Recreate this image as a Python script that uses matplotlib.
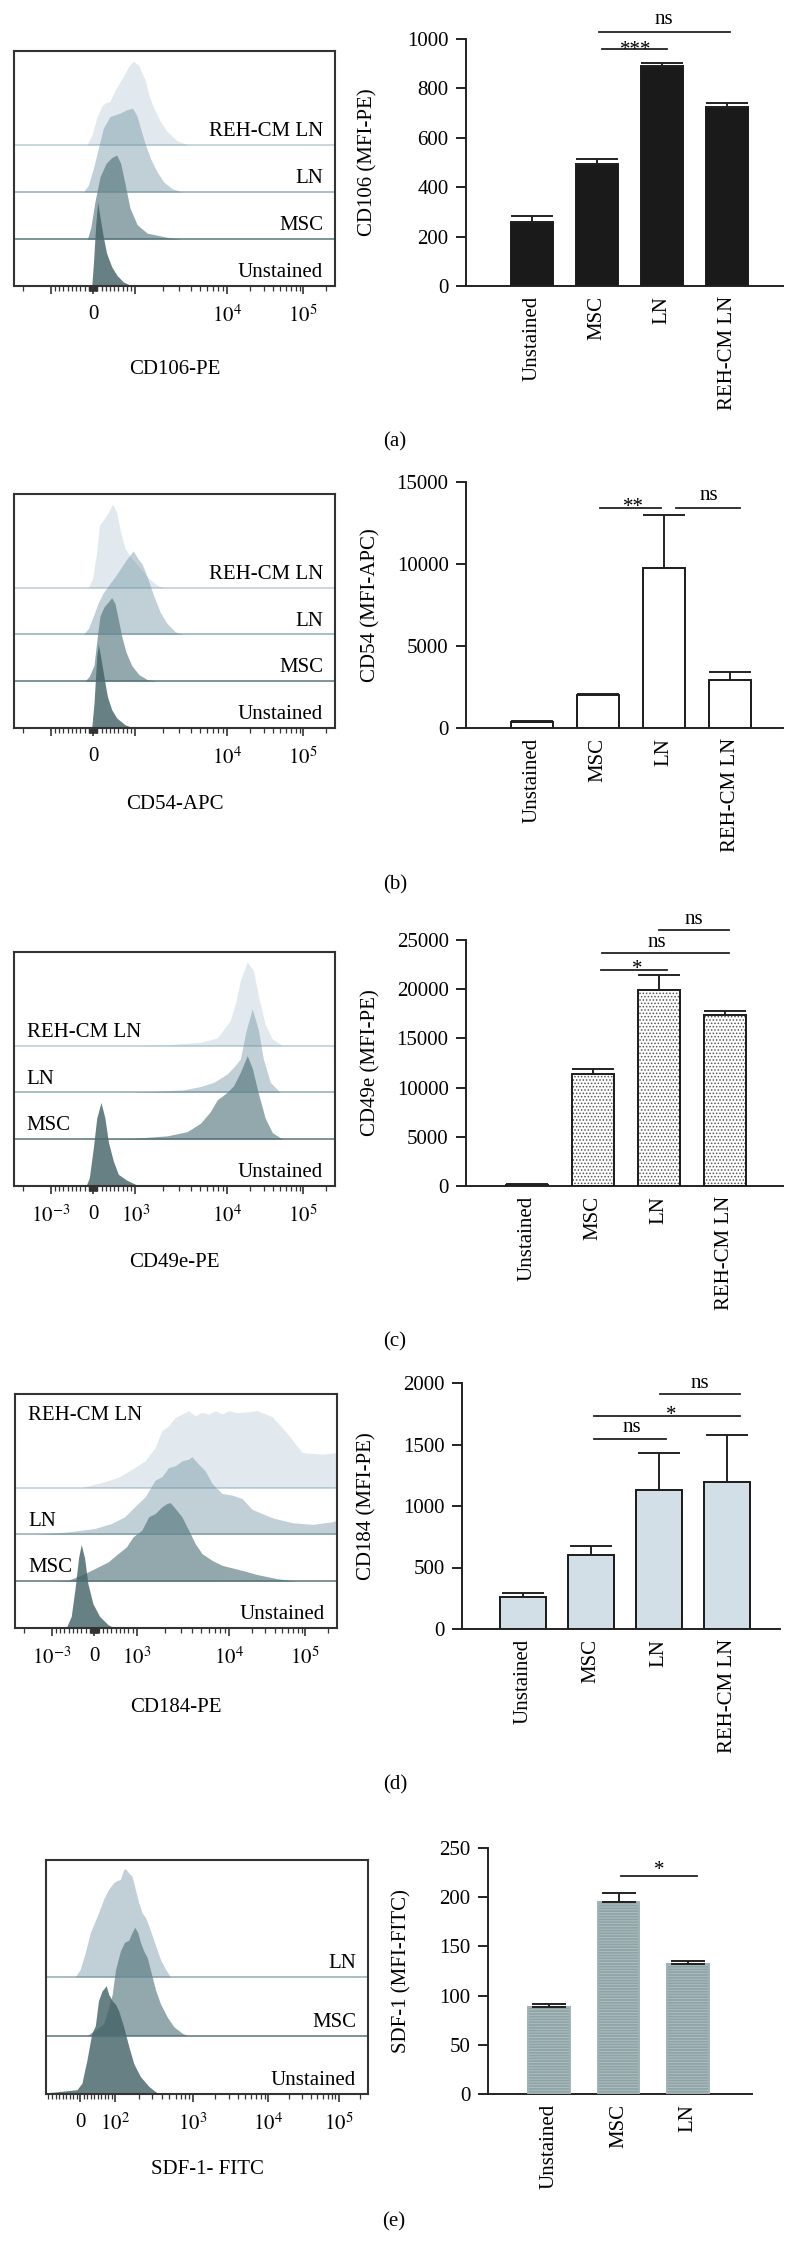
# Flow cytometry histograms + MFI bar charts (panels a-e)
import numpy as np
import matplotlib
matplotlib.use('Agg')
import matplotlib.pyplot as plt

plt.rcParams['font.family'] = ['Liberation Serif', 'DejaVu Serif']
plt.rcParams['mathtext.fontset'] = 'stix'
plt.rcParams['hatch.linewidth'] = 0.7

# ---- bar chart data ----
CATS4 = ['Unstained', 'MSC', 'LN', 'REH-CM LN']
CATS3 = ['Unstained', 'MSC', 'LN']
CD106_MFI = [259, 494, 889, 726]
CD106_ERR = [24, 20, 15, 16]
CD54_MFI = [380, 2010, 9740, 2940]
CD54_ERR = [50, 40, 3240, 505]
CD49E_MFI = [150, 11430, 19900, 17390]
CD49E_ERR = [30, 470, 1520, 410]
CD184_MFI = [260, 604, 1130, 1193]
CD184_ERR = [30, 71, 303, 384]
SDF1_MFI = [88, 195, 132]
SDF1_ERR = [3, 9, 3]

# ---- histogram outlines (fluorescence value, % of mode) ----
# (a) CD106-PE
HA_UNST_X = [-30, 10, 65, 110, 165, 245, 320, 440, 560, 710, 910]
HA_UNST_Y = [0, 27, 74, 100, 82, 58, 39, 23, 13, 5, 0]
HA_MSC_X = [-134, -54, 47, 165, 306, 440, 558, 652, 753, 871, 1044, 1341, 2212, 3085]
HA_MSC_Y = [0, 13, 45, 74, 90, 97, 100, 90, 66, 37, 17, 7, 2, 0]
HA_LN_X = [-228, -110, 8, 125, 243, 400, 635, 793, 935, 1044, 1133, 1253, 1456, 1720, 2030, 2505, 3215]
HA_LN_Y = [0, 8, 28, 52, 76, 90, 94, 98, 100, 90, 76, 60, 40, 24, 12, 4, 0]
HA_REH_X = [-149, -31, 87, 204, 282, 400, 518, 635, 753, 831, 949, 1087, 1183, 1284, 1396, 1582, 1870, 2212, 2850, 3770]
HA_REH_Y = [0, 11, 32, 46, 50, 52, 65, 75, 85, 93, 100, 95, 85, 77, 60, 44, 28, 16, 5, 0]
# (b) CD54-APC
HB_UNST_X = [-31, 24, 87, 125, 181, 259, 337, 440, 558, 753, 949]
HB_UNST_Y = [0, 30, 85, 100, 85, 61, 38, 22, 12, 4, 0]
HB_MSC_X = [-188, -86, 24, 102, 165, 259, 361, 440, 518, 596, 675, 776, 910, 1087, 1341, 1658]
HB_MSC_Y = [0, 6, 19, 54, 78, 89, 95, 100, 93, 74, 54, 35, 19, 8, 2, 0]
HB_LN_X = [-228, -110, 8, 125, 243, 400, 518, 675, 793, 949, 1044, 1183, 1341, 1582, 1870, 2212, 2720, 3290]
HB_LN_Y = [0, 7, 22, 38, 50, 61, 69, 81, 90, 100, 92, 84, 69, 46, 26, 13, 3, 0]
HB_REH_X = [-110, -8, 87, 149, 243, 361, 463, 558, 652, 753, 910, 1133, 1396, 1720, 2030]
HB_REH_Y = [0, 11, 43, 74, 81, 90, 100, 90, 66, 47, 35, 23, 11, 3, 0]
# (c) CD49e-PE
HC_UNST_X = [-165, -86, 8, 87, 188, 282, 361, 478, 596, 793, 1000, 1044]
HC_UNST_Y = [0, 10, 46, 81, 100, 81, 53, 30, 14, 7, 2, 0]
HC_MSC_X = [165, 941, 2212, 3650, 5090, 6535, 7740, 9930, 12100, 14830, 18300, 21300, 25600, 31600, 39100, 53000]
HC_MSC_Y = [0, 1, 4, 9, 19, 33, 47, 56, 64, 80, 100, 85, 55, 25, 8, 0]
HC_LN_X = [558, 1456, 3340, 5090, 7100, 9930, 12100, 14830, 17800, 21300, 25600, 29800, 36800, 49800]
HC_LN_Y = [0, 1, 3, 7, 12, 22, 30, 40, 75, 100, 75, 40, 12, 0]
HC_REH_X = [1000, 2212, 5090, 7740, 10950, 12740, 14830, 18300, 22000, 25600, 31600, 39100, 53000]
HC_REH_Y = [0, 1, 4, 9, 30, 50, 78, 100, 90, 60, 25, 8, 0]
# (d) CD184-PE
HD_UNST_X = [-659, -541, -447, -369, -306, -228, -149, -31, 125, 322, 478]
HD_UNST_Y = [0, 14, 49, 84, 100, 84, 53, 29, 14, 4, 0]
HD_MSC_X = [-1090, -619, -228, 87, 322, 558, 753, 910, 1133, 1341, 1582, 1870, 2120, 2300, 2610,
            3085, 3650, 4300, 5090, 6535, 8400, 12100, 14830, 23370, 42900, 78500]
HD_MSC_Y = [0, 1, 9, 17, 23, 33, 41, 53, 61, 77, 81, 89, 93, 94, 87, 77, 61, 45, 33, 25, 19, 15, 13, 8, 3, 0]
HD_LN_X = [-1518, -619, 8, 400, 713, 949, 1231, 1582, 1870, 2212, 2610, 3085, 3650, 3960, 4680, 5520,
           6535, 8400, 10950, 14830, 20090, 36800, 67400, 123600, 226400, 262000]
HD_LN_Y = [0, 3, 7, 13, 21, 33, 45, 65, 69, 80, 82, 88, 90, 93, 84, 76, 61, 49, 47, 43, 30, 20, 14, 12, 15, 17]
HD_REH_X = [-306, 165, 558, 949, 1231, 1582, 1870, 2212, 2610, 3085, 3650, 4300, 5090, 6000, 7100,
            8400, 9930, 12100, 14830, 23370, 36800, 57900, 91300, 167300, 262000]
HD_REH_Y = [0, 6, 12, 24, 32, 48, 68, 74, 84, 88, 92, 86, 90, 88, 92, 88, 92, 90, 90, 92, 85, 65, 42, 40, 42]
# (e) SDF-1-FITC
HE_UNST_X = [-97, -9, 5, 19, 33, 43, 52, 62, 74, 81, 91, 100, 110, 128, 149, 173, 211, 271, 348, 384]
HE_UNST_Y = [1, 4, 10, 31, 56, 63, 86, 95, 100, 92, 86, 83, 77, 62, 44, 28, 16, 7, 1, 0]
HE_MSC_X = [19, 43, 67, 81, 91, 100, 116, 131, 149, 164, 178, 195, 211, 233, 258, 285, 331, 384, 469, 571, 734, 852]
HE_MSC_Y = [0, 5, 11, 26, 38, 60, 78, 86, 88, 95, 100, 95, 86, 78, 72, 60, 42, 29, 17, 8, 2, 0]
HE_LN_X = [-14, 0, 14, 29, 43, 52, 67, 81, 95, 105, 116, 128, 135, 149, 164, 181, 200, 222, 245, 271, 300, 331, 384, 446, 518]
HE_LN_Y = [0, 7, 22, 41, 52, 59, 72, 81, 87, 89, 90, 99, 100, 96, 93, 81, 69, 59, 55, 47, 38, 29, 16, 7, 0]

# overlay colours: Unstained, MSC, LN, REH-CM LN
HIST_COLORS = ['#416064', '#4b6e75', '#628a99', '#6991aa']
HIST_ALPHA = [0.8, 0.6, 0.4, 0.2]

W, H = 798, 2266
fig = plt.figure(figsize=(W / 100, H / 100), dpi=100)


def px_axes(x0, y0, x1, y1):
    # axes from pixel box (top-left origin)
    return fig.add_axes([x0 / W, 1 - y1 / H, (x1 - x0) / W, (y1 - y0) / H])


def biex(lin, logs, pos):
    """linear around 0, log-like outside (FlowJo style axis)"""
    logs = np.asarray(logs, float)
    pos = np.asarray(pos, float)

    def fwd(v):
        v = np.asarray(v, dtype=float)
        a = np.abs(v)
        big = np.interp(np.log10(np.maximum(a, lin)), logs, pos)
        return np.sign(v) * np.where(a <= lin, a / lin * pos[0], big)

    def inv(u):
        u = np.asarray(u, dtype=float)
        a = np.abs(u)
        big = 10 ** np.interp(a, pos, logs)
        return np.sign(u) * np.where(a <= pos[0], a / pos[0] * lin, big)
    return fwd, inv


SCALE_PE = biex(1000, [3, 4, 5, 6], [0.462, 1.462, 2.288, 3.114])
SCALE_FITC = biex(100, [2, 3, 4, 5, 6], [0.467, 1.493, 2.493, 3.427, 4.36])

MINOR_PE = ([-2000] + [-k * 100 for k in range(1, 10)] + [-k * 10 for k in range(1, 10)]
            + [k * 10 for k in range(1, 10)] + [k * 100 for k in range(1, 10)]
            + [k * 1000 for k in range(2, 10)] + [k * 10000 for k in range(2, 10)] + [200000])
MINOR_FITC = ([-k * 10 for k in range(1, 10)] + [k * 10 for k in range(1, 10)]
              + [k * 100 for k in range(2, 10)] + [k * 1000 for k in range(2, 10)]
              + [k * 10000 for k in range(2, 10)] + [200000])


def draw_hist(ax, curves, lane, nlanes, scale, xlim, majors, major_labels, minors, xlabel, xlabel_y):
    ax.set_xscale('function', functions=scale)
    for i in reversed(range(len(curves))):
        xs, ys = curves[i]
        ax.fill_between(xs, i * lane, i * lane + np.asarray(ys, float),
                        color=HIST_COLORS[i], alpha=HIST_ALPHA[i], lw=0, zorder=1)
    for i in range(1, len(curves)):
        ax.axhline(i * lane, color=HIST_COLORS[i], alpha=min(HIST_ALPHA[i] + 0.2, 1), lw=1.3, zorder=2)
    ax.set_xlim(xlim)
    ax.set_ylim(0, nlanes * lane)
    ax.set_yticks([])
    ax.set_xticks(majors, major_labels)
    ax.set_xticks([m for m in minors if xlim[0] < m < xlim[1]], minor=True)
    ax.tick_params(axis='x', which='major', length=6, width=1.2, labelsize=15, pad=8, color='#333333')
    ax.tick_params(axis='x', which='minor', length=3.5, width=0.9, color='#333333')
    for s in ax.spines.values():
        s.set_linewidth(1.5)
        s.set_color('#333333')
    ax.set_xlabel(xlabel, fontsize=15, va='top')
    ax.xaxis.set_label_coords(0.5, xlabel_y)


def hist_label(ax, text, y, left=False):
    if left:
        ax.text(0.04, y, text, transform=ax.get_yaxis_transform(), ha='left', va='baseline', fontsize=15)
    else:
        ax.text(0.963, y, text, transform=ax.get_yaxis_transform(), ha='right', va='baseline', fontsize=15)


def draw_bars(ax, cats, vals, errs, width, xlim, ymax, yticks, ylabel, ylabel_x,
              face, edge='#1a1a1a', hatch=None, hatch_color=None, capsize=15):
    x = np.arange(len(cats))
    if hatch:
        ax.bar(x, vals, width, color=face, edgecolor=hatch_color, hatch=hatch, lw=0, zorder=2)
        ax.bar(x, vals, width, facecolor='none', edgecolor=edge, lw=1.4, zorder=3)
    else:
        ax.bar(x, vals, width, color=face, edgecolor=edge, lw=1.4, zorder=2)
    ax.errorbar(x, vals, yerr=[np.zeros(len(vals)), errs], fmt='none', ecolor='#222222',
                elinewidth=1.4, capsize=capsize, capthick=1.4, zorder=4)
    ax.set_xlim(xlim)
    ax.set_ylim(0, ymax)
    ax.set_xticks(x, cats, rotation=90, fontsize=15)
    ax.tick_params(axis='x', length=0, pad=7)
    ax.set_yticks(yticks)
    ax.tick_params(axis='y', length=7.5, width=1.4, labelsize=15, pad=5, color='#222222')
    ax.spines['top'].set_visible(False)
    ax.spines['right'].set_visible(False)
    for s in ('left', 'bottom'):
        ax.spines[s].set_linewidth(1.4)
        ax.spines[s].set_color('#222222')
    ax.set_ylabel(ylabel, fontsize=15)
    ax.yaxis.set_label_coords(ylabel_x, 0.5)


def bracket(ax, x1, x2, y, text, tx, ty):
    ax.plot([x1, x2], [y, y], color='#222222', lw=1.3, clip_on=False)
    ax.text(tx, ty, text, ha='center', va='baseline', fontsize=15, clip_on=False)


PE_MAJ = [-1000, 0, 1000, 1e4, 1e5]
PE_LAB_AB = ['', '0', '', '$10^4$', '$10^5$']
PE_LAB_CD = ['$10^{-3}$', '0', '$10^3$', '$10^4$', '$10^5$']
L4 = 56  # lane height for 4-sample overlays
L3 = 54  # lane height for 3-sample overlay

# ---- (a) ----
ax = px_axes(14, 51, 335, 286)
draw_hist(ax, [(HA_UNST_X, HA_UNST_Y), (HA_MSC_X, HA_MSC_Y), (HA_LN_X, HA_LN_Y), (HA_REH_X, HA_REH_Y)],
          L4, 5, SCALE_PE, (-2500, 262144), PE_MAJ, PE_LAB_AB, MINOR_PE, 'CD106-PE', -0.315)
for i, t in enumerate(['Unstained', 'MSC', 'LN', 'REH-CM LN']):
    hist_label(ax, t, i * L4 + 10.5)
ax = px_axes(466, 39, 783, 286)
draw_bars(ax, CATS4, CD106_MFI, CD106_ERR, 0.65, (-1.015, 3.86), 1000, [0, 200, 400, 600, 800, 1000],
          'CD106 (MFI-PE)', -0.278, '#1a1a1a')
bracket(ax, 1.08, 2.08, 960, '***', 1.6, 935)
bracket(ax, 1.03, 3.05, 1028, 'ns', 2.03, 1061)
fig.text(395 / W, 1 - 442 / H, '(a)', ha='center', va='center', fontsize=15)

# ---- (b) ----
ax = px_axes(14, 494, 335, 728)
draw_hist(ax, [(HB_UNST_X, HB_UNST_Y), (HB_MSC_X, HB_MSC_Y), (HB_LN_X, HB_LN_Y), (HB_REH_X, HB_REH_Y)],
          L4, 5, SCALE_PE, (-2500, 262144), PE_MAJ, PE_LAB_AB, MINOR_PE, 'CD54-APC', -0.286)
for i, t in enumerate(['Unstained', 'MSC', 'LN', 'REH-CM LN']):
    hist_label(ax, t, i * L4 + 10.5)
ax = px_axes(466, 482, 783, 728)
draw_bars(ax, CATS4, CD54_MFI, CD54_ERR, 0.64, (-1.0, 3.8), 15000, [0, 5000, 10000, 15000],
          'CD54 (MFI-APC)', -0.271, 'white')
bracket(ax, 1.03, 1.95, 13390, '**', 1.53, 13160)
bracket(ax, 2.18, 3.15, 13390, 'ns', 2.68, 13890)
fig.text(395 / W, 1 - 885 / H, '(b)', ha='center', va='center', fontsize=15)

# ---- (c) ----
ax = px_axes(14, 952, 335, 1186)
draw_hist(ax, [(HC_UNST_X, HC_UNST_Y), (HC_MSC_X, HC_MSC_Y), (HC_LN_X, HC_LN_Y), (HC_REH_X, HC_REH_Y)],
          L4, 5, SCALE_PE, (-2500, 262144), PE_MAJ, PE_LAB_CD, MINOR_PE, 'CD49e-PE', -0.286)
hist_label(ax, 'Unstained', 10.5)
for i, t in enumerate(['MSC', 'LN', 'REH-CM LN'], start=1):
    hist_label(ax, t, i * L4 + 10.5, left=True)
ax = px_axes(466, 940, 783, 1186)
draw_bars(ax, CATS4, CD49E_MFI, CD49E_ERR, 0.64, (-0.92, 3.88), 25000, [0, 5000, 10000, 15000, 20000, 25000],
          'CD49e (MFI-PE)', -0.271, 'white', hatch='.....', hatch_color='#555555')
bracket(ax, 1.12, 2.12, 22000, '*', 1.67, 21530)
bracket(ax, 1.14, 3.06, 23630, 'ns', 1.97, 24270)
bracket(ax, 2.0, 3.06, 26000, 'ns', 2.53, 26600)
fig.text(395 / W, 1 - 1342 / H, '(c)', ha='center', va='center', fontsize=15)

# ---- (d) ----
ax = px_axes(15, 1394, 337, 1628)
draw_hist(ax, [(HD_UNST_X, HD_UNST_Y), (HD_MSC_X, HD_MSC_Y), (HD_LN_X, HD_LN_Y), (HD_REH_X, HD_REH_Y)],
          L4, 5, SCALE_PE, (-2500, 262144), PE_MAJ, PE_LAB_CD, MINOR_PE, 'CD184-PE', -0.3)
hist_label(ax, 'Unstained', 10.5)
hist_label(ax, 'MSC', L4 + 11.5, left=True)
hist_label(ax, 'LN', 2 * L4 + 10.5, left=True)
hist_label(ax, 'REH-CM LN', 3 * L4 + 81, left=True)
ax = px_axes(462, 1383, 780, 1629)
draw_bars(ax, CATS4, CD184_MFI, CD184_ERR, 0.68, (-0.9, 3.78), 2000, [0, 500, 1000, 1500, 2000],
          'CD184 (MFI-PE)', -0.27, '#d3dfe6')
bracket(ax, 1.04, 2.1, 1547, 'ns', 1.6, 1602)
bracket(ax, 1.04, 3.19, 1729, '*', 2.18, 1700)
bracket(ax, 2.01, 3.19, 1913, 'ns', 2.6, 1959)
fig.text(395 / W, 1 - 1785 / H, '(d)', ha='center', va='center', fontsize=15)

# ---- (e) ----
ax = px_axes(46, 1860, 368, 2094)
draw_hist(ax, [(HE_UNST_X, HE_UNST_Y), (HE_MSC_X, HE_MSC_Y), (HE_LN_X, HE_LN_Y)],
          L3, 4, SCALE_FITC, (-97, 262144), [0, 100, 1000, 1e4, 1e5],
          ['0', '$10^2$', '$10^3$', '$10^4$', '$10^5$'], MINOR_FITC, 'SDF-1- FITC', -0.282)
for i, t in enumerate(['Unstained', 'MSC', 'LN']):
    hist_label(ax, t, i * L3 + 8)
ax = px_axes(488, 1848, 752, 2094)
draw_bars(ax, CATS3, SDF1_MFI, SDF1_ERR, 0.6, (-0.88, 2.92), 250, [0, 50, 100, 150, 200, 250],
          'SDF-1 (MFI-FITC)', -0.288, '#8fa4a6', edge='#9fb2b4', hatch='------',
          hatch_color='#aebfc0', capsize=12.5)
bracket(ax, 1.03, 2.13, 222, '*', 1.59, 223)
fig.text(394 / W, 1 - 2222 / H, '(e)', ha='center', va='center', fontsize=15)

fig.savefig('out.png', dpi=100)
